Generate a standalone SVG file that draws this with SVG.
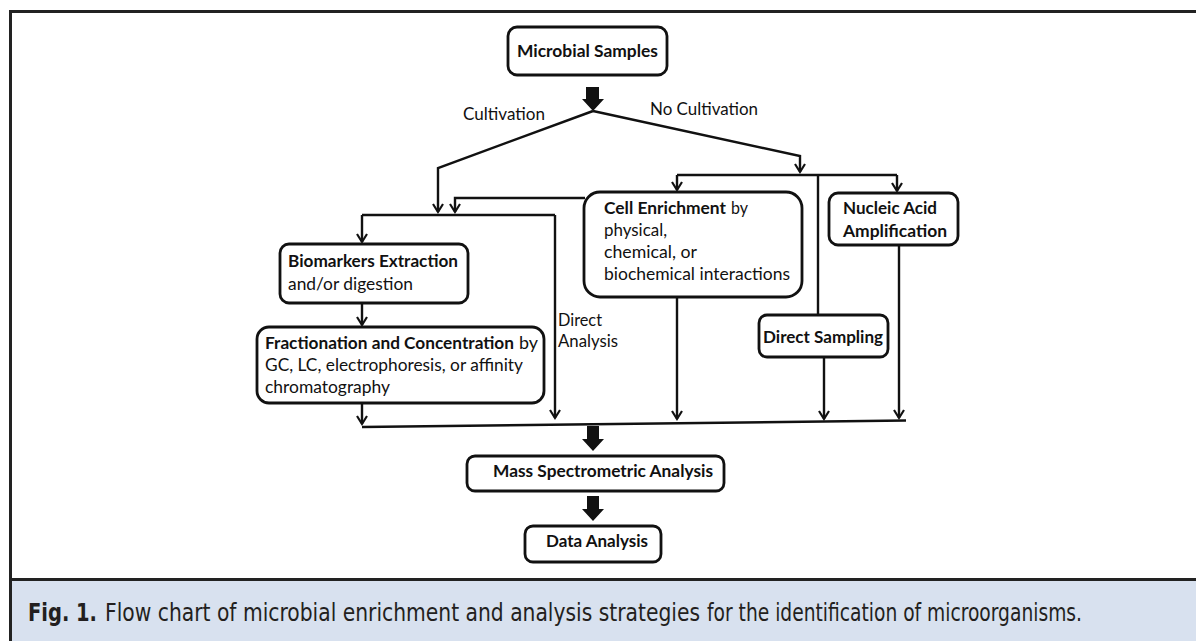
<svg xmlns="http://www.w3.org/2000/svg" width="1196" height="641" viewBox="0 0 1196 641">
<defs>
<style>
.box{fill:#fff;stroke:#111;stroke-width:2.8}
.ln{fill:none;stroke:#111;stroke-width:2.4}
.ar{marker-end:url(#ah)}
.thick{fill:#111}
text{font-family:Lato,"Open Sans","Liberation Sans",sans-serif;font-size:17.5px;fill:#111}
.b{font-weight:bold}
.cap{font-family:"Liberation Sans Narrow","DejaVu Sans Condensed","Liberation Sans",sans-serif;font-size:24px;fill:#231f20}
</style>
<marker id="ah" markerUnits="userSpaceOnUse" markerWidth="14" markerHeight="14" viewBox="-10 -7 12 14" refX="0" refY="0" orient="auto" overflow="visible">
<path d="M-8,-5 L0,0 L-8,5" fill="none" stroke="#111" stroke-width="2.2"/>
</marker>
</defs>
<rect x="0" y="0" width="1196" height="641" fill="#fff"/>
<rect x="11" y="581" width="1185" height="60" fill="#d8e1ef"/>
<g id="frame" fill="none" stroke="#222" stroke-width="3">
<line x1="9" y1="11.5" x2="1196" y2="11.5"/>
<line x1="10.5" y1="10" x2="10.5" y2="641"/>
<line x1="9" y1="579.5" x2="1196" y2="579.5"/>
</g>

<g id="connectors">
<polygon class="thick" points="586,87 599,87 599,99 604,99 593,111 582,99 586,99"/>
<polyline class="ln ar" points="593,111 438,168 438,212"/>
<polyline class="ln ar" points="593,111 800,156 800,172"/>
<line class="ln" x1="677" y1="175" x2="897" y2="175"/>
<line class="ln ar" x1="677" y1="175" x2="677" y2="190"/>
<line class="ln ar" x1="897" y1="175" x2="897" y2="191"/>
<line class="ln" x1="818" y1="175" x2="818" y2="315"/>
<polyline class="ln ar" points="585,198 455,198 455,212"/>
<line class="ln" x1="362" y1="215" x2="555" y2="215"/>
<line class="ln ar" x1="362" y1="215" x2="362" y2="242"/>
<line class="ln ar" x1="555" y1="215" x2="555" y2="418"/>
<line class="ln ar" x1="362" y1="303" x2="362" y2="325"/>
<line class="ln ar" x1="362" y1="403" x2="362" y2="424"/>
<line class="ln ar" x1="677" y1="297" x2="677" y2="419"/>
<line class="ln ar" x1="824" y1="357" x2="824" y2="419"/>
<line class="ln ar" x1="899" y1="245" x2="899" y2="418"/>
<line class="ln" x1="362" y1="427" x2="906" y2="420.5"/>
<polygon class="thick" points="587,426 599,426 599,439 604,439 593,451 582,439 587,439"/>
<polygon class="thick" points="587,496 599,496 599,509 604,509 593,521 582,509 587,509"/>
<text x="463" y="120" textLength="82" lengthAdjust="spacingAndGlyphs">Cultivation</text>
<text x="650" y="115" textLength="108" lengthAdjust="spacingAndGlyphs">No Cultivation</text>
<text x="558" y="326" textLength="44" lengthAdjust="spacingAndGlyphs">Direct</text>
<text x="558" y="347" textLength="60" lengthAdjust="spacingAndGlyphs">Analysis</text>
</g>

<g id="microbial-samples">
<rect class="box" x="508" y="27" width="159" height="48" rx="9"/>
<text class="b" x="517" y="57" textLength="141" lengthAdjust="spacingAndGlyphs">Microbial Samples</text>
</g>

<g id="cell-enrichment">
<rect class="box" x="584" y="192" width="218" height="105" rx="16"/>
<text class="b" x="604" y="214" textLength="122" lengthAdjust="spacingAndGlyphs">Cell Enrichment</text>
<text x="731" y="214" textLength="17" lengthAdjust="spacingAndGlyphs">by</text>
<text x="604" y="236" textLength="63" lengthAdjust="spacingAndGlyphs">physical,</text>
<text x="604" y="258" textLength="93" lengthAdjust="spacingAndGlyphs">chemical, or</text>
<text x="604" y="280" textLength="186" lengthAdjust="spacingAndGlyphs">biochemical interactions</text>
</g>

<g id="nucleic-acid">
<rect class="box" x="829" y="193" width="129" height="52" rx="9"/>
<text class="b" x="843" y="214" textLength="94" lengthAdjust="spacingAndGlyphs">Nucleic Acid</text>
<text class="b" x="843" y="237" textLength="104" lengthAdjust="spacingAndGlyphs">Amplification</text>
</g>

<g id="direct-sampling">
<rect class="box" x="759" y="315" width="129" height="42" rx="8"/>
<text class="b" x="763" y="343" textLength="120" lengthAdjust="spacingAndGlyphs">Direct Sampling</text>
</g>

<g id="biomarkers-extraction">
<rect class="box" x="280" y="244" width="188" height="59" rx="9"/>
<text class="b" x="288" y="267" textLength="170" lengthAdjust="spacingAndGlyphs">Biomarkers Extraction</text>
<text x="288" y="290" textLength="125" lengthAdjust="spacingAndGlyphs">and/or digestion</text>
</g>

<g id="fractionation">
<rect class="box" x="257" y="327" width="287" height="76" rx="12"/>
<text class="b" x="265" y="349" textLength="249" lengthAdjust="spacingAndGlyphs">Fractionation and Concentration</text>
<text x="519" y="349" textLength="19" lengthAdjust="spacingAndGlyphs">by</text>
<text x="265" y="371" textLength="258" lengthAdjust="spacingAndGlyphs">GC, LC, electrophoresis, or affinity</text>
<text x="265" y="393" textLength="125" lengthAdjust="spacingAndGlyphs">chromatography</text>
</g>

<g id="mass-spec">
<rect class="box" x="467" y="456" width="257" height="35" rx="8"/>
<text class="b" x="493" y="477" textLength="220" lengthAdjust="spacingAndGlyphs">Mass Spectrometric Analysis</text>
</g>

<g id="data-analysis">
<rect class="box" x="525" y="526" width="136" height="36" rx="8"/>
<text class="b" x="546" y="547" textLength="102" lengthAdjust="spacingAndGlyphs">Data Analysis</text>
</g>

<g id="caption">
<text class="cap b" x="28" y="621" textLength="69" lengthAdjust="spacingAndGlyphs">Fig. 1.</text>
<text class="cap" x="105" y="621" textLength="595" lengthAdjust="spacingAndGlyphs">Flow chart of microbial enrichment and analysis strategies</text>
<text class="cap" x="707" y="621" textLength="375" lengthAdjust="spacingAndGlyphs">for the identification of microorganisms.</text>
</g>
</svg>
